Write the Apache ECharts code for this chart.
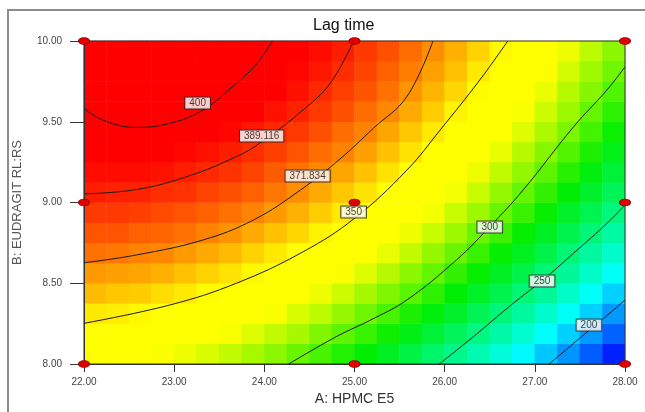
<!DOCTYPE html>
<html>
<head>
<meta charset="utf-8">
<script src="https://cdn.jsdelivr.net/npm/echarts@6/dist/echarts.min.js"></script>
<style>
  html, body { margin: 0; padding: 0; background: #fff; }
  #chart { width: 645px; height: 412px; }
</style>
</head>
<body>
<div id="chart"></div>
<script>
// cell centres of the colour field (A: HPMC E5, B: EUDRAGIT RL:RS)
const colCenters = [22.125, 22.375, 22.625, 22.875, 23.125, 23.375, 23.625, 23.875,
  24.125, 24.375, 24.625, 24.875, 25.125, 25.375, 25.625, 25.875,
  26.125, 26.375, 26.625, 26.875, 27.125, 27.375, 27.625, 27.875];
const rowCenters = [8.0625, 8.1875, 8.3125, 8.4375, 8.5625, 8.6875, 8.8125, 8.9375,
  9.0625, 9.1875, 9.3125, 9.4375, 9.5625, 9.6875, 9.8125, 9.9375];

// lag time, one row per B value (bottom to top)
const lagTime = [
  [338,336,333,330,327,323,319,314,309,303,297,290,283,275,267,258,249,240,230,219,208,197,185,172],
  [346,344,342,340,336,333,329,324,319,314,307,301,294,287,279,270,261,252,242,232,221,210,198,186],
  [354,353,351,348,345,342,338,334,329,323,318,311,304,297,289,281,273,263,254,244,233,222,210,198],
  [362,360,359,356,354,350,347,342,338,333,327,321,314,307,300,292,283,274,265,255,245,234,222,210],
  [368,367,366,364,361,358,355,351,346,341,336,330,324,317,309,302,293,285,275,266,255,245,234,222],
  [375,374,372,371,368,365,362,358,354,349,344,338,332,326,319,311,303,294,285,276,266,255,244,233],
  [380,380,378,377,375,372,369,365,361,357,352,346,340,334,327,320,312,303,295,285,275,265,254,243],
  [385,385,384,382,380,378,375,372,368,364,359,354,348,342,335,328,320,312,303,294,285,274,264,253],
  [390,389,389,387,386,383,381,378,374,370,365,360,355,349,342,335,328,320,311,302,293,283,273,262],
  [393,393,393,392,390,388,386,383,379,375,371,366,361,355,349,342,335,327,319,310,301,291,281,270],
  [397,397,396,396,394,392,390,387,384,380,376,372,367,361,355,348,341,334,326,317,308,299,289,278],
  [399,399,399,399,398,396,394,391,388,385,381,376,372,366,360,354,347,340,332,324,315,306,296,286],
  [401,402,402,401,400,399,397,395,392,389,385,381,376,371,365,359,352,345,337,329,321,312,302,292],
  [402,403,403,403,403,401,400,398,395,392,388,384,380,375,369,363,357,350,342,335,326,317,308,298],
  [403,404,405,405,404,403,402,400,397,394,391,387,383,378,373,367,361,354,347,339,331,322,313,304],
  [403,404,405,405,405,404,403,401,399,396,393,390,385,381,376,370,364,358,351,343,335,327,318,309]
];

// contour lines, [A, B] points
const c400 = [[22,9.583],[22.21,9.51],[22.57,9.465],[22.95,9.49],[23.32,9.573],[23.69,9.738],[23.92,9.862],[24.09,10]];
const c389 = [[22,9.053],[22.58,9.08],[23.14,9.16],[23.69,9.284],[23.97,9.376],[24.43,9.573],[24.73,9.738],[24.99,10]];
const c372 = [[22,8.627],[22.58,8.675],[23.32,8.768],[23.88,8.892],[24.4,9.077],[24.84,9.27],[25.21,9.46],[25.58,9.655],[25.87,10]];
const c350 = [[22,8.252],[22.95,8.365],[23.69,8.5],[24.43,8.695],[25.0,8.902],[25.58,9.2],[25.95,9.449],[26.39,9.759],[26.7,10]];
const c300 = [[24.27,8],[24.8,8.17],[25.17,8.27],[25.58,8.396],[26.13,8.644],[26.5,8.85],[26.87,9.077],[27.43,9.469],[27.8,9.697],[28,9.84]];
const c250 = [[25.94,8],[26.32,8.17],[26.76,8.376],[27.08,8.516],[27.43,8.686],[27.8,8.871],[28,8.985]];
const c200 = [[27.16,8],[27.43,8.128],[27.6,8.207],[27.8,8.3],[28,8.396]];
const contours = [c400, c389, c372, c350, c300, c250, c200];

// contour labels
const labelText = ['400', '389.116', '371.834', '350', '300', '250', '200'];
const labelA = [23.26, 23.97, 24.48, 24.99, 26.5, 27.08, 27.6];
const labelB = [9.616, 9.412, 9.164, 8.941, 8.848, 8.514, 8.241];

// design points
const designA = [22, 25, 28, 22, 25, 28, 22, 25, 28];
const designB = [10, 10, 10, 9, 9, 9, 8, 8, 8];

const heatData = [];
lagTime.forEach((row, j) => row.forEach((v, i) => heatData.push([i, j, v])));

// colour ramp: blue -> cyan -> green -> yellow -> red, stops at uneven values
const rampStops = [
  [165, [0, 0, 255]], [220, [0, 255, 255]], [284, [0, 238, 0]],
  [330, [255, 255, 0]], [350, [255, 255, 0]], [395, [255, 0, 0]]
];
const rampMin = 165, rampMax = 395, rampStep = 2;
const rampColors = [];
for (let v = rampMin; v <= rampMax; v += rampStep) {
  let k = 0;
  while (k < rampStops.length - 2 && v > rampStops[k + 1][0]) k++;
  const [v0, c0] = rampStops[k];
  const [v1, c1] = rampStops[k + 1];
  const t = Math.min(1, Math.max(0, (v - v0) / (v1 - v0)));
  const c = c0.map((x, n) => Math.round(x + (c1[n] - x) * t));
  rampColors.push('rgb(' + c.join(',') + ')');
}

const rect = { left: 84, top: 41, width: 541, height: 323 };
const font = "'Liberation Sans', Arial, sans-serif";

const chart = echarts.init(document.getElementById('chart'));

const lineSeries = contours.map((pts) => ({
  type: 'line',
  xAxisIndex: 1,
  yAxisIndex: 1,
  data: pts,
  smooth: 0.4,
  symbol: 'none',
  silent: true,
  z: 3,
  lineStyle: { color: '#1a1a1a', width: 1 }
}));

chart.setOption({
  animation: false,
  backgroundColor: '#fff',
  title: {
    text: 'Lag time',
    left: 313,
    top: 18,
    padding: 0,
    textStyle: { fontFamily: font, fontSize: 16, fontWeight: 'normal', color: '#111' }
  },
  graphic: [{
    type: 'rect',
    shape: { x: 8, y: 10, width: 700, height: 500 },
    style: { fill: 'none', stroke: '#8c8c8c', lineWidth: 2 },
    silent: true
  }],
  grid: [
    Object.assign({}, rect),
    Object.assign({ show: true, z: 3, borderColor: '#333', borderWidth: 1, backgroundColor: 'transparent' }, rect)
  ],
  xAxis: [
    { type: 'category', gridIndex: 0, data: colCenters, show: false },
    {
      type: 'value', gridIndex: 1, min: 22, max: 28, interval: 1, z: 3,
      name: 'A: HPMC E5', nameLocation: 'middle', nameGap: 27,
      nameTextStyle: { fontFamily: font, fontSize: 14, color: '#333' },
      axisLine: { lineStyle: { color: '#333' } },
      axisTick: { length: 8, lineStyle: { color: '#333' } },
      axisLabel: { margin: 13, fontFamily: font, fontSize: 10, color: '#444', formatter: (v) => v.toFixed(2) },
      splitLine: { show: false }
    }
  ],
  yAxis: [
    { type: 'category', gridIndex: 0, data: rowCenters, show: false },
    {
      type: 'value', gridIndex: 1, min: 8, max: 10, interval: 0.5, z: 3,
      name: 'B: EUDRAGIT RL:RS', nameLocation: 'middle', nameGap: 60,
      nameTextStyle: { fontFamily: font, fontSize: 13, color: '#555' },
      axisLine: { lineStyle: { color: '#333' } },
      axisTick: { length: 14, lineStyle: { color: '#333' } },
      axisLabel: { margin: 22, fontFamily: font, fontSize: 10, color: '#444', formatter: (v) => v.toFixed(2) },
      splitLine: { show: false }
    }
  ],
  visualMap: {
    show: false,
    type: 'continuous',
    seriesIndex: 0,
    dimension: 2,
    min: rampMin,
    max: rampMax,
    inRange: { color: rampColors }
  },
  series: [
    {
      type: 'heatmap',
      xAxisIndex: 0,
      yAxisIndex: 0,
      data: heatData,
      silent: true,
      z: 1
    },
    ...lineSeries,
    {
      type: 'scatter',
      xAxisIndex: 1,
      yAxisIndex: 1,
      data: labelText.map((t, i) => [labelA[i], labelB[i], t]),
      symbolSize: 0,
      silent: true,
      z: 5,
      label: {
        show: true,
        position: 'inside',
        formatter: (p) => p.value[2],
        fontFamily: font,
        fontSize: 10,
        color: '#111',
        backgroundColor: '#fff',
        borderColor: '#222',
        borderWidth: 1,
        padding: [1, 4, 0, 4]
      }
    },
    {
      type: 'scatter',
      xAxisIndex: 1,
      yAxisIndex: 1,
      data: designA.map((a, i) => [a, designB[i]]),
      symbol: 'circle',
      symbolSize: [11, 7],
      clip: false,
      silent: true,
      z: 6,
      itemStyle: { color: '#e00000', borderColor: '#8a0000', borderWidth: 0.8, opacity: 1 }
    }
  ]
});
</script>
</body>
</html>
